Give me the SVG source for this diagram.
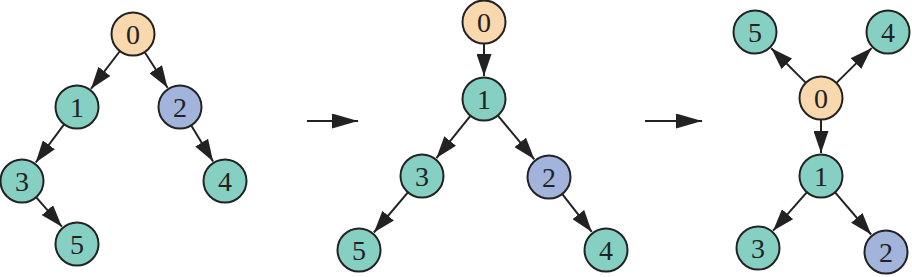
<svg xmlns="http://www.w3.org/2000/svg" width="912" height="277" viewBox="0 0 912 277">
<style>
.n circle{stroke:#222;stroke-width:2}
.t{fill:#86d0c3}
.o{fill:#fad8ae}
.b{fill:#a2b3dc}
.n text{font-family:"Liberation Serif","Times New Roman",serif;font-size:28px;fill:#222;text-anchor:middle}
.e line{stroke:#222;stroke-width:2;marker-end:url(#ah)}
.big line{stroke:#222;stroke-width:2;marker-end:url(#ah2)}
</style>
<defs>
<marker id="ah" markerUnits="userSpaceOnUse" markerWidth="22" markerHeight="15" refX="22" refY="7.5" orient="auto">
<path d="M0,0 L22,7.5 L0,15 z" fill="#222"/>
</marker>
<marker id="ah2" markerUnits="userSpaceOnUse" markerWidth="26" markerHeight="15" refX="26" refY="7.5" orient="auto">
<path d="M0,0 L26,7.5 L0,15 z" fill="#222"/>
</marker>
</defs>
<g id="connectors" class="e">
<line x1="119.6" y1="51.5" x2="91" y2="88.8"/>
<line x1="144.9" y1="52.5" x2="167.6" y2="87.7"/>
<line x1="63.9" y1="124.7" x2="35.7" y2="162.5"/>
<line x1="191.4" y1="125.8" x2="213.1" y2="161.4"/>
<line x1="36.5" y1="197.6" x2="61.9" y2="226.7"/>
<line x1="484" y1="44" x2="484" y2="76"/>
<line x1="470.2" y1="116.1" x2="436.4" y2="158.1"/>
<line x1="498.1" y1="115.9" x2="534.3" y2="159.3"/>
<line x1="407.7" y1="192.7" x2="373.9" y2="232.5"/>
<line x1="562.5" y1="194.3" x2="591.8" y2="231.9"/>
<line x1="805.4" y1="82.4" x2="771.3" y2="48.3"/>
<line x1="836.7" y1="82.6" x2="871.6" y2="48.1"/>
<line x1="821" y1="120" x2="821" y2="153"/>
<line x1="806.5" y1="192.6" x2="773.1" y2="230.7"/>
<line x1="835.3" y1="192.7" x2="871.1" y2="234.5"/>
</g>
<g id="steps" class="big">
<line x1="307" y1="121" x2="358" y2="121"/>
<line x1="645" y1="121" x2="702" y2="121"/>
</g>
<g id="a0" class="n"><circle class="o" cx="133" cy="34" r="21.5"/><text x="133" y="43.5">0</text></g>
<g id="a1" class="n"><circle class="t" cx="77" cy="107" r="21.5"/><text x="77" y="116.5">1</text></g>
<g id="a2" class="n"><circle class="b" cx="180" cy="107" r="21.5"/><text x="180" y="116.5">2</text></g>
<g id="a3" class="n"><circle class="t" cx="22" cy="181" r="21.5"/><text x="22" y="190.5">3</text></g>
<g id="a4" class="n"><circle class="t" cx="225" cy="181" r="21.5"/><text x="225" y="190.5">4</text></g>
<g id="a5" class="n"><circle class="t" cx="77" cy="244" r="21.5"/><text x="77" y="253.5">5</text></g>
<g id="b0" class="n"><circle class="o" cx="484" cy="22" r="21.5"/><text x="484" y="31.5">0</text></g>
<g id="b1" class="n"><circle class="t" cx="484" cy="99" r="21.5"/><text x="484" y="108.5">1</text></g>
<g id="b3" class="n"><circle class="t" cx="422" cy="176" r="21.5"/><text x="422" y="185.5">3</text></g>
<g id="b2" class="n"><circle class="b" cx="549" cy="177" r="21.5"/><text x="549" y="186.5">2</text></g>
<g id="b5" class="n"><circle class="t" cx="359" cy="250" r="21.5"/><text x="359" y="259.5">5</text></g>
<g id="b4" class="n"><circle class="t" cx="606" cy="250" r="21.5"/><text x="606" y="259.5">4</text></g>
<g id="c5" class="n"><circle class="t" cx="755" cy="32" r="21.5"/><text x="755" y="41.5">5</text></g>
<g id="c4" class="n"><circle class="t" cx="888" cy="32" r="21.5"/><text x="888" y="41.5">4</text></g>
<g id="c0" class="n"><circle class="o" cx="821" cy="98" r="21.5"/><text x="821" y="107.5">0</text></g>
<g id="c1" class="n"><circle class="t" cx="821" cy="176" r="21.5"/><text x="821" y="185.5">1</text></g>
<g id="c3" class="n"><circle class="t" cx="758" cy="248" r="21.5"/><text x="758" y="257.5">3</text></g>
<g id="c2" class="n"><circle class="b" cx="886" cy="252" r="21.5"/><text x="886" y="261.5">2</text></g>
</svg>
